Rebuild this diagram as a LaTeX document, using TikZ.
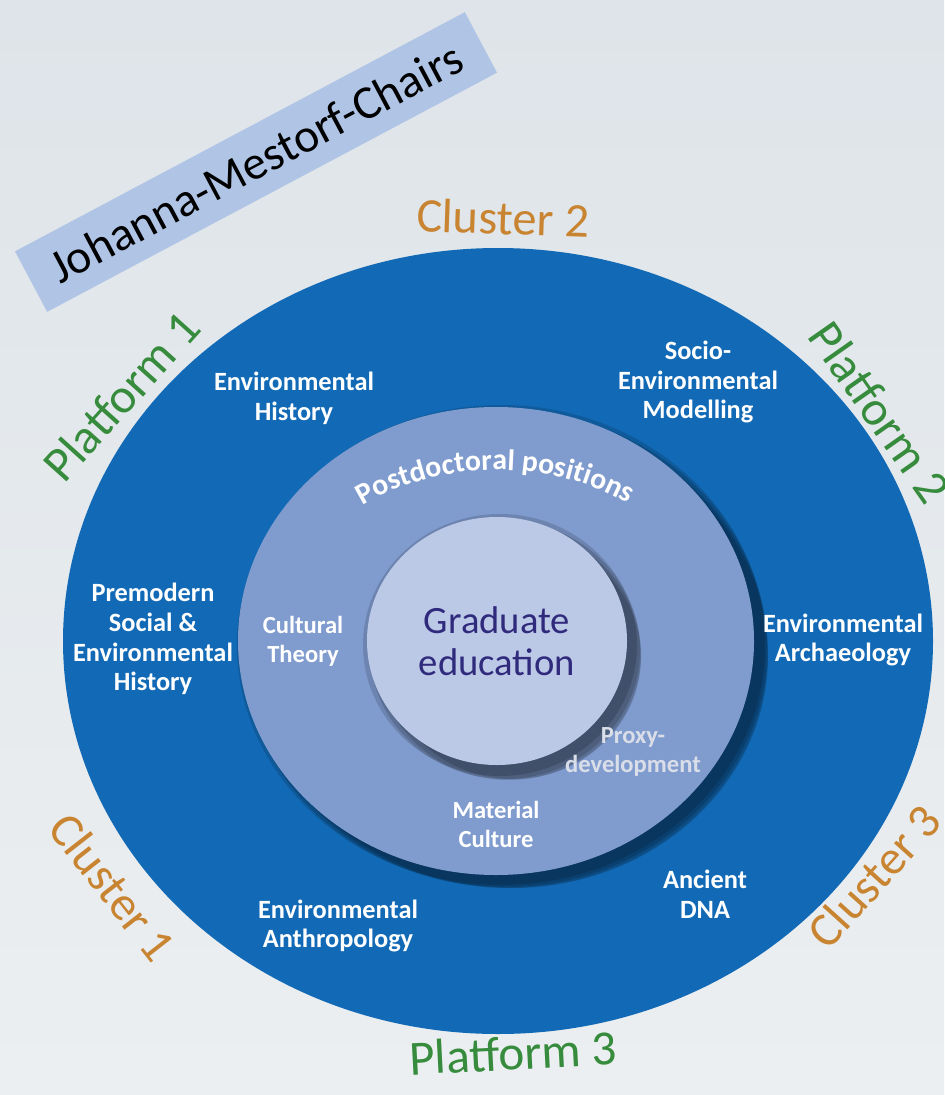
\documentclass[tikz,border=0pt]{standalone}
\usepackage{fontspec}
\setmainfont{Carlito}
\usetikzlibrary{decorations.text}
\definecolor{bgtop}{RGB}{222,228,233}
\definecolor{bgbottom}{RGB}{236,239,241}
\definecolor{ringdark}{RGB}{18,106,182}
\definecolor{ringmid}{RGB}{128,156,206}
\definecolor{ringcore}{RGB}{187,200,230}
\definecolor{chairblue}{RGB}{176,197,230}
\definecolor{clusterorange}{RGB}{200,132,48}
\definecolor{platformgreen}{RGB}{54,140,60}
\definecolor{gradink}{RGB}{48,42,125}
\definecolor{proxygrey}{RGB}{218,222,232}
\tikzstyle{ringlabel}=[text=white, font=\fontsize{15}{17}\selectfont\bfseries, align=center]
\tikzstyle{innerlabel}=[text=white, font=\fontsize{14}{16.5}\selectfont\bfseries, align=center]
\tikzstyle{clusterlabel}=[text=clusterorange, inner sep=0pt, font=\fontsize{27.5}{30}\selectfont]
\tikzstyle{platformlabel}=[text=platformgreen, inner sep=0pt, font=\fontsize{28}{30}\selectfont]
\tikzstyle{shadowlayer}=[fill=black, opacity=0.15]

\begin{document}
\begin{tikzpicture}[x=0.02cm, y=-0.02cm]
% Background
    \useasboundingbox (0,0) rectangle (944,1095);
    \shade[top color=bgtop, bottom color=bgbottom] (0,0) rectangle (944,1095);
% Rings
    \fill[ringdark] (498,641) ellipse [x radius=435, y radius=393];
    \fill[shadowlayer] (501,645) ellipse [x radius=264, y radius=240];
    \fill[shadowlayer] (505,649) ellipse [x radius=262, y radius=238];
    \fill[shadowlayer] (509,653) ellipse [x radius=259, y radius=235];
    \fill[shadowlayer] (512,656) ellipse [x radius=256, y radius=232];
    \fill[ringmid] (496,641) ellipse [x radius=258, y radius=234];
    \fill[shadowlayer] (500,645) ellipse [x radius=137, y radius=131];
    \fill[shadowlayer] (505,650) ellipse [x radius=135, y radius=129];
    \fill[shadowlayer] (509,654) ellipse [x radius=132, y radius=126];
    \fill[shadowlayer] (513,657) ellipse [x radius=128, y radius=122];
    \fill[ringcore] (497,641) ellipse [x radius=130, y radius=124];
% Chairs banner
    \node[fill=chairblue, rotate=28, minimum width=290pt, minimum height=39pt,
          font=\fontsize{27}{30}\selectfont] (chairs) at (256,162) {Johanna-Mestorf-Chairs};
% Clusters and platforms
    \node[clusterlabel, rotate=-2] (cluster2) at (503,218) {Cluster 2};
    \node[clusterlabel, rotate=-52] (cluster1) at (113,887) {Cluster 1};
    \node[clusterlabel, rotate=48] (cluster3) at (874,876) {Cluster 3};
    \node[platformlabel, rotate=48] (platform1) at (121,396) {Platform 1};
    \node[platformlabel, rotate=-55] (platform2) at (880,412) {Platform 2};
    \node[platformlabel, rotate=3] (platform3) at (513,1053) {Platform 3};
% Outer ring topics
    \node[ringlabel] (envhistory) at (294,398) {Environmental\\History};
    \node[ringlabel] (modelling) at (698,382) {Socio-\\Environmental\\Modelling};
    \node[ringlabel] (archaeology) at (843,640) {Environmental\\Archaeology};
    \node[ringlabel] (premodern) at (153,639) {Premodern\\Social \&\\Environmental\\History};
    \node[ringlabel] (dna) at (705,894) {Ancient\\DNA};
    \node[ringlabel] (anthropology) at (338,926) {Environmental\\Anthropology};
% Middle ring topics
    \path[decorate, decoration={text along path, text align=center, text color=white,
          text={|\fontsize{17}{17}\selectfont\bfseries|Postdoctoral positions}}]
          (358.6,508) arc [start angle=-129, end angle=-52, x radius=220, y radius=171];
    \node[innerlabel] (cultural) at (303,641) {Cultural\\Theory};
    \node[innerlabel, text=proxygrey] (proxy) at (633,752) {Proxy-\\development};
    \node[innerlabel] (material) at (496,824) {Material\\Culture};
% Core
    \node[text=gradink, font=\fontsize{22}{24}\selectfont, align=center] (graduate) at (497,641) {Graduate\\education};
\end{tikzpicture}
\end{document}
